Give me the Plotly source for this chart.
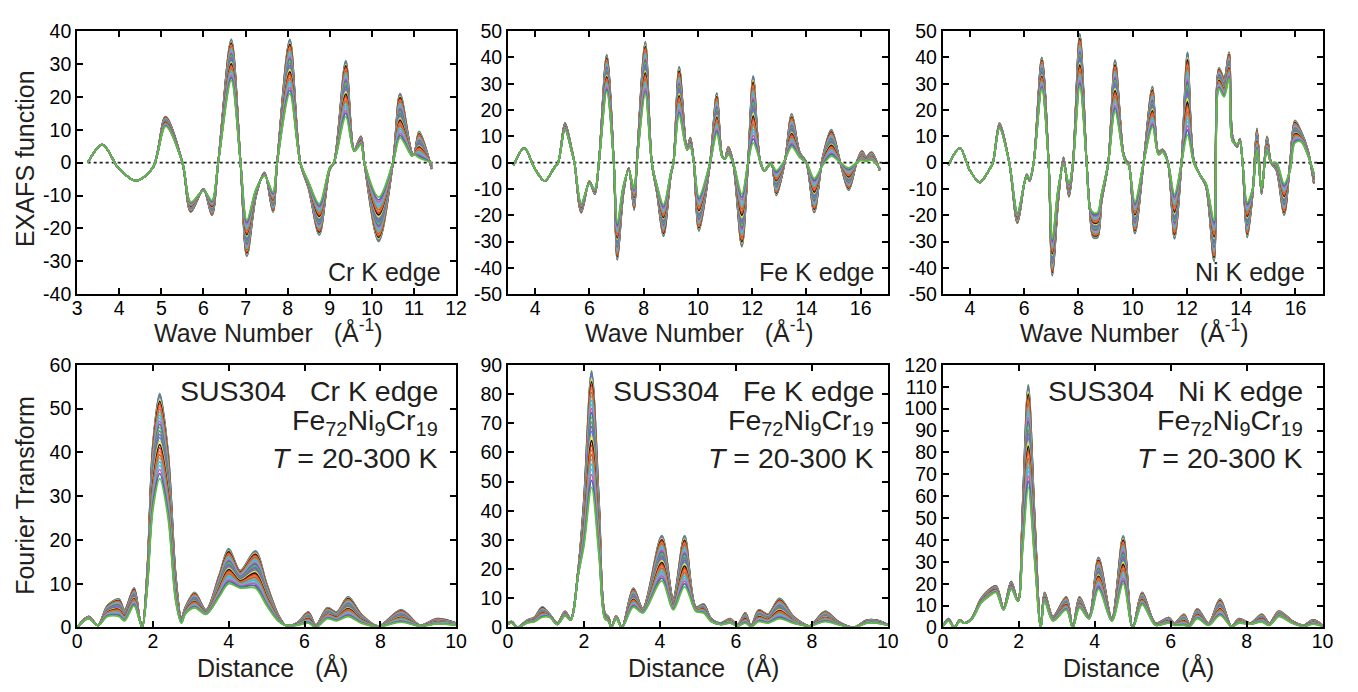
import plotly.graph_objects as go

W, H = 1358, 692

# ---------------------------------------------------------------- temperatures
temperatures_K = list(range(20, 301, 10))
# relative EXAFS amplitude of each temperature between the 20 K and 300 K curves
amp_fraction = [1.0, 0.99, 0.975, 0.955, 0.93, 0.905, 0.875, 0.845, 0.815, 0.78,
                0.745, 0.71, 0.675, 0.64, 0.6, 0.56, 0.52, 0.48, 0.44, 0.4,
                0.36, 0.32, 0.28, 0.24, 0.2, 0.155, 0.11, 0.06, 0.0]

# ---------------------------------------------------------------- Cr K edge, k-space
cr_k = [3.25, 3.6, 4.0, 4.4, 4.8, 5.1, 5.5, 5.7, 6.0, 6.2, 6.35, 6.66, 6.88, 7.03,
        7.25, 7.45, 7.65, 7.75, 8.05, 8.3, 8.5, 8.75, 9.0, 9.1, 9.38, 9.58, 9.74,
        9.82, 10.16, 10.5, 10.67, 10.95, 11.0, 11.12, 11.42]
cr_chi_20K = [0, 5.5, -2, -5.5, -1.5, 14, 0, -15, -8, -16, 0, 37.5, 0, -28.5,
              -10, -3, -15, 0, 37.5, 0, -8, -22, -2, 0, 31, 4, 8,
              0, -24, 0, 21, 3, 2.5, 9.5, -2]
cr_chi_300K = [0, 5.5, -2, -5.5, -1.5, 11, 0, -12, -8.5, -11.5, 0, 25, 0, -17.5,
               -8, -4, -9, 0, 21, 0, -6, -12.5, -1.5, 0, 14, 3.5, 5.5,
               0, -10.5, 0, 7.5, 2, 2.5, 1.5, 0]

# ---------------------------------------------------------------- Fe K edge, k-space
fe_k = [3.2, 3.6, 4.0, 4.35, 4.7, 4.85, 5.1, 5.35, 5.45, 5.7, 6.0, 6.2, 6.35,
        6.64, 6.9, 7.03, 7.25, 7.45, 7.65, 7.75, 8.06, 8.3, 8.5, 8.73, 9.0, 9.1,
        9.31, 9.6, 9.72, 9.85, 10.04, 10.45, 10.7, 10.9, 11.0, 11.12, 11.3, 11.62,
        11.85, 12.04, 12.3, 12.45, 12.7, 12.89, 13.2, 13.46, 13.75, 14.0, 14.29, 14.6,
        14.92, 15.25, 15.56, 15.85, 16.05, 16.2, 16.4, 16.7]
fe_chi_20K = [-1, 5.5, -2.5, -7, -2, 0, 15, 5, 0, -19, -7, -12, 0,
              41, 0, -37, -12, -2, -18, 0, 46, 0, -12, -28, -5, 0,
              36.5, 5, 9.5, 0, -26, 0, 26.5, 2.5, 1.5, 6, 0, -32,
              0, 33, 0, -3, 0, -12.5, 0, 18.5, 4, 0, -19, 2,
              12.5, 0, -10.5, 0, 4.5, 2, 4, -3]
fe_chi_300K = [-1, 5.5, -2.5, -7, -2, 0, 12.5, 4, 0, -15.5, -8, -10, 0,
               27, 0, -23, -9, -3, -10, 0, 26, 0, -9, -16, -4, 0,
               18, 5, 6, 0, -13, 0, 11, 2, 1.5, 3, 0, -12,
               0, 7.5, 0.5, -3, -0.5, -3, 1, 6, 2, 0, -6, -1,
               2.5, 0, -2, 0, 1, 0.5, 1, -2]

# ---------------------------------------------------------------- Ni K edge, k-space
ni_k = [3.2, 3.63, 4.0, 4.36, 4.75, 4.85, 5.09, 5.45, 5.75, 6.0, 6.1, 6.2,
        6.35, 6.65, 6.9, 7.04, 7.25, 7.45, 7.65, 7.8, 8.05, 8.3, 8.42, 8.55,
        8.7, 8.85, 9.1, 9.35, 9.65, 9.75, 9.85, 10.08, 10.4, 10.73, 10.95, 11.1,
        11.3, 11.54, 11.8, 12.02, 12.25, 12.5, 12.7, 13.0, 13.18, 13.37, 13.55, 13.68,
        13.85, 13.95, 14.05, 14.22, 14.42, 14.58, 14.75, 14.95, 15.1, 15.3, 15.58, 15.8,
        15.98, 16.2, 16.45, 16.68]
ni_chi_20K = [-1, 5.5, -3, -7.5, -2, 0, 15, 0, -23, -8, -4.5, -7,
              0, 40, 0, -43, -15, 2, -13, 0, 49, 0, -18, -28.5,
              -28.5, -15, 0, 39, 4, 1, 0, -27, 0, 29, 4, 5,
              0, -29, 0, 42, 1, -5, -9, -37.5, 36, 32, 42, 10,
              6, 9, 0, -28.5, -12, 13, -12, 10, 0, -3, -20, 0,
              16, 12, 5, -8]
ni_chi_300K = [-1, 5.5, -3, -7.5, -2, 0, 13, 0, -19, -8, -5, -6,
               0, 28, 0, -29, -10, -1, -8, 0, 29, 0, -17, -19,
               -19, -12, 0, 19.5, 3, 0, -1, -15, 0, 13.5, 3, 4,
               0, -12, 0, 10.5, 0, -5, -8, -22, 28, 25, 32, 8,
               7, 8, 0, -15, -10, 5, -10, 5, 0, 0, -8, -3,
               7.5, 8, 3, -4]

# ---------------------------------------------------------------- Fourier transforms
cr_r = [0, 0.3, 0.55, 0.8, 1.1, 1.25, 1.5, 1.65, 1.72, 1.85, 2.0, 2.18, 2.4, 2.6, 2.75,
        2.85, 3.1, 3.4, 3.75, 4.0, 4.3, 4.7, 5.0, 5.3, 5.5, 5.8, 6.1, 6.3, 6.6, 6.85,
        7.15, 7.5, 7.95, 8.55, 9.05, 9.5, 10]
cr_ft_20K = [0, 2.5, 0.5, 5, 6.5, 4, 9, 2, 0, 13, 42, 53.5, 40, 12, 2,
             4.5, 8, 4, 12, 18, 13, 17.5, 10, 3, 0.5, 1, 3.5, 0.5, 4.5, 3.5,
             7, 3, 0.3, 4, 0.5, 2, 1]
cr_ft_300K = [0, 2, 0.5, 2.5, 2.5, 1.5, 5, 1.5, 0, 9, 27, 34, 25, 6, 1,
              3, 4.5, 3, 7, 10, 9, 9, 5, 1.5, 0.5, 0.5, 1, 0, 2, 1.5,
              2.5, 1, 0.2, 1.2, 0.3, 0.8, 0.5]

fe_r = [0, 0.1, 0.25, 0.5, 0.7, 0.9, 1.1, 1.3, 1.5, 1.65, 1.85, 2.0, 2.2, 2.4, 2.55,
        2.65, 2.72, 2.85, 3.0, 3.3, 3.55, 4.05, 4.35, 4.65, 4.95, 5.15, 5.35, 5.6, 5.85, 6.05,
        6.25, 6.4, 6.6, 6.85, 7.15, 7.5, 7.75, 7.95, 8.35, 8.7, 9.1, 9.45, 9.7, 10]
fe_ft_20K = [1.5, 2, 0, 2.5, 3.5, 7, 4.5, 1.5, 5.5, 3, 20, 44, 88, 42, 5,
             3.5, 0, 4, 0, 13.5, 6.5, 31.5, 10, 31.5, 7, 8, 3, 1.5, 3, 1,
             5, 0.5, 6, 4.5, 10, 4, 1.5, 0.5, 5.5, 2, 0, 2.5, 2.5, 1]
fe_ft_300K = [1, 1.5, 0, 1.5, 2, 3.5, 3.5, 1, 4, 2.5, 18, 28, 48, 24, 3,
              2, 0, 3, 0, 7, 5, 16, 6, 14, 5.5, 5, 2, 1, 1.5, 0.5,
              1.5, 0.3, 2, 1.5, 3, 1.5, 0.8, 0.5, 2, 1, 0, 1.5, 1.5, 0.8]

ni_r = [0, 0.15, 0.3, 0.45, 0.55, 0.75, 1.0, 1.2, 1.4, 1.6, 1.8, 1.98, 2.1, 2.25, 2.42,
        2.58, 2.68, 2.9, 3.25, 3.42, 3.6, 3.85, 4.1, 4.45, 4.75, 5.0, 5.25, 5.6, 5.95, 6.1,
        6.35, 6.5, 6.7, 7.0, 7.3, 7.6, 7.8, 8.1, 8.4, 8.6, 8.85, 9.2, 9.5, 9.75, 10]
ni_ft_20K = [0.5, 4, 0, 3.5, 2, 4, 13, 17, 19, 9, 21, 12, 55, 111, 50,
             0, 16, 5, 14, 0, 14, 5, 32, 4, 42, 0, 16, 2, 4.5, 2,
             6, 1.5, 8.5, 2, 13, 0.5, 4, 2, 6, 2, 7.5, 3, 1, 3.5, 1]
ni_ft_300K = [0.5, 3, 0, 3, 2, 3.5, 11, 14, 16, 8, 17.5, 12, 35, 64, 30,
              0, 12, 3, 8, 0, 9, 4, 17.5, 3, 20, 0, 10.5, 1, 2, 1,
              1, 0.5, 4, 1, 5.5, 0.5, 2, 1.5, 2.5, 1, 5, 2, 0.5, 1.5, 0.5]

# ---------------------------------------------------------------- tick labels
cr_chi_ticks = [-40, -30, -20, -10, 0, 10, 20, 30, 40]
fe_ni_chi_ticks = [-50, -40, -30, -20, -10, 0, 10, 20, 30, 40, 50]
cr_k_ticks = [3, 4, 5, 6, 7, 8, 9, 10, 11, 12]
fe_ni_k_ticks = [4, 6, 8, 10, 12, 14, 16]
r_ticks = [0, 2, 4, 6, 8, 10]
cr_ft_ticks = [0, 10, 20, 30, 40, 50, 60]
fe_ft_ticks = [0, 10, 20, 30, 40, 50, 60, 70, 80, 90]
ni_ft_ticks = [0, 10, 20, 30, 40, 50, 60, 70, 80, 90, 100, 110, 120]

# curve colours, one per temperature in turn
palette = ["#62bd3f", "#5d7ea6", "#8f5fa8", "#4f86d0", "#f2e21c", "#111111", "#e8342a",
           "#ec7a2c", "#b0683a", "#9c9c9c", "#35bfd2", "#74a9de", "#d9559a", "#3b6eb4"]

FONT = "Arial, Liberation Sans, Helvetica, sans-serif"
TXT = "#231f20"

for a, b, c in [(cr_k, cr_chi_20K, cr_chi_300K), (fe_k, fe_chi_20K, fe_chi_300K),
                (ni_k, ni_chi_20K, ni_chi_300K), (cr_r, cr_ft_20K, cr_ft_300K),
                (fe_r, fe_ft_20K, fe_ft_300K), (ni_r, ni_ft_20K, ni_ft_300K)]:
    assert len(a) == len(b) == len(c)
assert len(amp_fraction) == len(temperatures_K)

# pixel layout of the six frames (left, right, top, bottom)
cols = [(73, 456.5), (509, 893.3), (949, 1333.3)]
rows = [(20.7, 292.5), (365.5, 636.7)]

panels = [
    dict(x=cr_k, hi=cr_chi_20K, lo=cr_chi_300K, xr=[3, 12], yr=[-40, 40],
         xt=cr_k_ticks, yt=cr_chi_ticks, col=0, row=0, zero=True),
    dict(x=fe_k, hi=fe_chi_20K, lo=fe_chi_300K, xr=[3, 17], yr=[-50, 50],
         xt=fe_ni_k_ticks, yt=fe_ni_chi_ticks, col=1, row=0, zero=True),
    dict(x=ni_k, hi=ni_chi_20K, lo=ni_chi_300K, xr=[3, 17], yr=[-50, 50],
         xt=fe_ni_k_ticks, yt=fe_ni_chi_ticks, col=2, row=0, zero=True),
    dict(x=cr_r, hi=cr_ft_20K, lo=cr_ft_300K, xr=[0, 10], yr=[0, 60],
         xt=r_ticks, yt=cr_ft_ticks, col=0, row=1, zero=False),
    dict(x=fe_r, hi=fe_ft_20K, lo=fe_ft_300K, xr=[0, 10], yr=[0, 90],
         xt=r_ticks, yt=fe_ft_ticks, col=1, row=1, zero=False),
    dict(x=ni_r, hi=ni_ft_20K, lo=ni_ft_300K, xr=[0, 10], yr=[0, 120],
         xt=r_ticks, yt=ni_ft_ticks, col=2, row=1, zero=False),
]

fig = go.Figure()
layout = {}

for n, p in enumerate(panels, start=1):
    xa = "x" if n == 1 else f"x{n}"
    ya = "y" if n == 1 else f"y{n}"
    l, r = cols[p["col"]]
    t, b = rows[p["row"]]

    if p["zero"]:
        fig.add_trace(go.Scatter(
            x=[p["x"][0], p["xr"][1]], y=[0, 0], mode="lines", xaxis=xa, yaxis=ya,
            line=dict(color="#222222", width=1.6, dash="dot"), showlegend=False,
            hoverinfo="skip"))

    for i, (T, f) in enumerate(zip(temperatures_K, amp_fraction)):
        y = [lo + (hi - lo) * f for hi, lo in zip(p["hi"], p["lo"])]
        fig.add_trace(go.Scatter(
            x=p["x"], y=y, mode="lines", xaxis=xa, yaxis=ya, name=f"{T} K",
            line=dict(color=palette[i % len(palette)], width=1.8, shape="spline",
                      smoothing=0.9),
            showlegend=False))

    axis_common = dict(
        showline=True, linecolor="black", linewidth=2, mirror="allticks",
        ticks="inside", ticklen=6, tickwidth=1.5, tickcolor="black",
        showgrid=False, zeroline=False,
        tickfont=dict(family=FONT, size=19.5, color="black"))
    layout["xaxis" if n == 1 else f"xaxis{n}"] = dict(
        axis_common, domain=[l / W, r / W], range=p["xr"], anchor=ya,
        ticklabelstandoff=-5,
        tickmode="array", tickvals=p["xt"], ticktext=[str(v) for v in p["xt"]])
    layout["yaxis" if n == 1 else f"yaxis{n}"] = dict(
        axis_common, domain=[1 - b / H, 1 - t / H], range=p["yr"], anchor=xa,
        tickmode="array", tickvals=p["yt"], ticktext=[str(v) for v in p["yt"]])

annotations = []


def note(text, px, py, size, xanchor="center", angle=0):
    annotations.append(dict(
        text=text, x=px / W, y=1 - py / H, xref="paper", yref="paper",
        xanchor=xanchor, yanchor="middle", showarrow=False, textangle=angle,
        font=dict(family=FONT, size=size, color=TXT)))


sp = "\u00a0\u00a0\u00a0"
# axis titles
note("EXAFS function", 20, 153, 25, angle=-90)
note("Fourier Transform", 20, 500, 25, angle=-90)
for (l, r) in cols:
    note(f"Wave Number{sp}(Å<sup>-1</sup>)", (l + r) / 2 + 2, 331, 25)
    note(f"Distance{sp}(Å)", (l + r) / 2 + 6, 678, 25)

# edge labels
for (el, xr) in zip(["Cr", "Fe", "Ni"], [443, 881, 1318]):
    note(f"{el} K edge", xr, 270, 25, xanchor="right")
for (el, xr) in zip(["Cr", "Fe", "Ni"], [440, 881, 1316]):
    note(f"SUS304{sp}{el} K edge", xr, 392, 28.5, xanchor="right")
    note("Fe<sub>72</sub>Ni<sub>9</sub>Cr<sub>19</sub>", xr, 424, 28.5, xanchor="right")
    note("<i>T</i> = 20-300 K", xr, 462, 28.5, xanchor="right")

fig.update_layout(
    width=W, height=H, margin=dict(l=0, r=0, t=0, b=0),
    paper_bgcolor="white", plot_bgcolor="white",
    annotations=annotations, showlegend=False, **layout)

fig.write_html("out.html")
